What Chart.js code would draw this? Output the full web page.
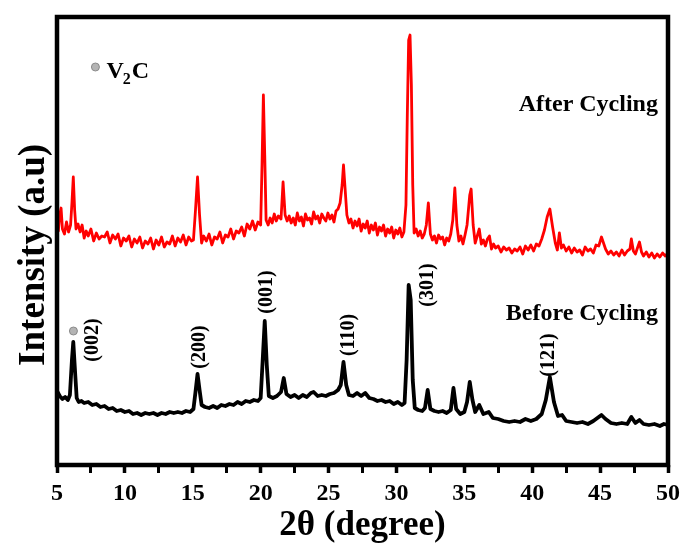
<!DOCTYPE html>
<html>
<head>
<meta charset="utf-8">
<script src="https://cdn.jsdelivr.net/npm/chart.js@4"></script>
<style>
html,body{margin:0;padding:0;background:#fff;}
#wrap{width:686px;height:547px;position:relative;}
</style>
</head>
<body>
<div id="wrap"><canvas id="c" width="686" height="547"></canvas></div>
<script>
// 2θ (degree) and intensity (a.u.) for the pattern before cycling
const beforeX = [5.0,5.2,5.4,5.6,5.8,5.95,6.1,6.2,6.3,6.45,6.6,6.8,7.0,7.3,7.6,7.9,8.2,8.5,8.8,9.1,9.4,9.7,10.0,10.3,10.6,10.9,11.2,11.5,11.8,12.1,12.4,12.7,13.0,13.3,13.6,13.9,14.2,14.5,14.8,15.05,15.2,15.35,15.5,15.65,15.9,16.2,16.5,16.8,17.1,17.4,17.7,18.0,18.3,18.6,18.9,19.2,19.5,19.8,20.0,20.15,20.3,20.45,20.6,20.9,21.2,21.5,21.7,21.9,22.2,22.5,22.8,23.1,23.4,23.7,23.9,24.2,24.5,24.8,25.1,25.4,25.7,25.9,26.1,26.3,26.5,26.8,27.1,27.4,27.7,28.0,28.3,28.6,28.9,29.2,29.5,29.8,30.1,30.4,30.6,30.75,30.9,31.05,31.2,31.35,31.6,31.9,32.1,32.3,32.5,32.8,33.1,33.4,33.7,34.0,34.2,34.4,34.7,35.0,35.2,35.4,35.6,35.8,36.1,36.4,36.8,37.1,37.5,37.9,38.3,38.7,39.1,39.5,39.9,40.3,40.7,41.0,41.3,41.6,41.9,42.2,42.5,42.9,43.3,43.7,44.1,44.5,44.8,45.1,45.4,45.8,46.2,46.6,47.0,47.3,47.6,47.9,48.2,48.6,49.0,49.4,49.7,50.0];
const beforeY = [74,69,66,68,65,70,105,123,100,67,63,64,62,63,60,61,58,59,56,57,54,55,53,54,51,52,50,52,51,52,50,52,51,53,52,53,52,54,53,56,73,91,75,60,58,57,59,57,60,59,61,60,63,61,64,63,65,64,67,105,144,100,69,67,69,73,87,71,68,70,67,70,68,72,73,69,70,69,71,72,75,80,103,80,70,69,72,69,72,67,66,64,65,63,64,61,63,60,62,105,180,165,85,57,55,54,57,75,56,54,53,54,52,55,77,56,51,53,63,83,65,53,60,51,53,47,46,44,43,44,43,46,44,46,51,65,88,63,49,50,44,43,42,43,41,44,47,50,46,42,41,42,41,48,42,45,41,40,41,39,41,40];

// 2θ (degree) and intensity (a.u.) for the pattern after cycling
const afterX = [5.0,5.1,5.2,5.3,5.4,5.55,5.7,5.85,6.0,6.1,6.2,6.3,6.4,6.55,6.7,6.85,7.0,7.15,7.3,7.5,7.7,7.9,8.1,8.3,8.5,8.7,8.9,9.1,9.3,9.5,9.7,9.9,10.1,10.3,10.5,10.7,10.9,11.1,11.3,11.5,11.7,11.9,12.1,12.3,12.5,12.7,12.9,13.1,13.3,13.5,13.7,13.9,14.1,14.3,14.5,14.7,14.9,15.05,15.2,15.35,15.5,15.65,15.8,16.0,16.2,16.4,16.6,16.8,17.0,17.2,17.4,17.6,17.8,18.0,18.2,18.4,18.6,18.8,19.0,19.2,19.4,19.6,19.8,20.0,20.1,20.2,20.3,20.4,20.55,20.7,20.85,21.0,21.15,21.3,21.5,21.65,21.8,21.95,22.1,22.25,22.4,22.55,22.7,22.85,23.0,23.15,23.3,23.45,23.6,23.75,23.9,24.05,24.2,24.35,24.5,24.65,24.8,24.95,25.1,25.25,25.4,25.55,25.7,25.85,26.0,26.1,26.2,26.35,26.5,26.65,26.8,26.95,27.1,27.25,27.4,27.55,27.7,27.85,28.0,28.15,28.3,28.45,28.6,28.75,28.9,29.05,29.2,29.35,29.5,29.65,29.8,29.95,30.1,30.25,30.4,30.55,30.7,30.8,30.9,31.0,31.1,31.2,31.3,31.45,31.6,31.75,31.9,32.05,32.2,32.35,32.5,32.65,32.8,32.95,33.1,33.25,33.4,33.55,33.7,33.85,34.0,34.15,34.3,34.45,34.6,34.75,34.9,35.05,35.2,35.4,35.5,35.65,35.8,35.95,36.1,36.25,36.4,36.55,36.7,36.85,37.0,37.15,37.3,37.5,37.7,37.9,38.1,38.3,38.5,38.7,38.9,39.1,39.3,39.5,39.7,39.9,40.1,40.3,40.5,40.7,40.9,41.1,41.3,41.5,41.7,41.85,42.0,42.15,42.3,42.5,42.7,42.9,43.1,43.3,43.5,43.7,43.9,44.1,44.3,44.5,44.7,44.9,45.1,45.25,45.4,45.6,45.8,46.0,46.2,46.4,46.6,46.8,47.0,47.2,47.3,47.45,47.6,47.75,47.9,48.05,48.2,48.4,48.6,48.8,49.0,49.2,49.4,49.6,49.8,50.0];
const afterY = [245,234,250,257,236,231,243,233,240,262,288,255,236,241,233,240,227,234,229,236,224,232,226,229,228,233,222,230,226,231,219,227,224,229,218,226,222,228,217,224,221,227,216,225,220,228,218,223,221,229,219,227,223,230,220,228,224,225,255,288,250,222,229,224,231,220,228,226,233,222,230,228,236,226,234,232,238,229,241,236,244,235,243,240,300,370,310,245,240,247,242,251,244,249,246,283,250,244,249,242,247,240,252,244,248,239,251,245,247,241,253,246,249,242,251,247,244,252,246,250,243,254,256,262,280,300,280,250,242,246,237,244,239,246,234,241,237,244,232,240,235,242,230,238,234,240,229,236,232,238,227,235,231,237,228,233,260,350,425,430,380,280,232,236,229,234,227,231,240,262,231,225,229,222,230,226,228,220,227,224,231,245,277,240,224,229,221,230,240,270,276,240,222,229,236,221,225,219,226,229,216,221,217,219,213,218,215,217,212,216,214,218,211,219,215,220,214,221,219,226,235,248,256,238,222,215,232,217,220,214,218,212,217,213,215,210,218,214,216,212,220,219,228,222,216,211,214,210,213,209,215,210,214,216,226,214,211,217,223,213,209,213,208,212,207,211,208,212,209,212];

// x-axis tick values (every 2.5°, labels every 5°)
const xTickStep = 2.5;
const xLabelEvery = 5;

// Miller-index labels: [text, 2θ, intensity]
const hklLabels = [
  ['(002)', 7.61, 125],
  ['(200)', 15.55, 118],
  ['(001)', 20.48, 173],
  ['(110)', 26.5, 130],
  ['(301)', 32.3, 180],
  ['(121)', 41.2, 110]
];
// V2C marker above the 6.2° peak: [2θ, intensity]
const v2cMarker = [6.21, 134];
// series labels: [text, 2θ (right edge), intensity]
const seriesLabels = [
  ['After Cycling', 49.26, 360],
  ['Before Cycling', 49.26, 151]
];
// legend key: circle at [2θ, intensity], text starting at [2θ, intensity]
const legendCircle = [7.83, 398];
const legendText = [8.64, 393];

const SERIF = '"Liberation Serif", "Times New Roman", serif';

const frameAndLabels = {
  id: 'frameAndLabels',
  afterDraw(chart) {
    const {ctx, chartArea: a, scales: {x, y}} = chart;
    ctx.save();
    ctx.strokeStyle = '#000';
    ctx.lineWidth = 4.5;
    ctx.strokeRect(a.left, a.top, a.right - a.left, a.bottom - a.top);

    ctx.fillStyle = '#000';
    ctx.font = 'bold 20px ' + SERIF;
    ctx.textAlign = 'center';
    ctx.textBaseline = 'middle';
    hklLabels.forEach(([t, xv, yv]) => {
      ctx.save();
      ctx.translate(x.getPixelForValue(xv), y.getPixelForValue(yv));
      ctx.rotate(-Math.PI / 2);
      ctx.fillText(t, 0, 0);
      ctx.restore();
    });

    const drawDot = (xv, yv) => {
      ctx.beginPath();
      ctx.arc(x.getPixelForValue(xv), y.getPixelForValue(yv), 4, 0, Math.PI * 2);
      ctx.fillStyle = '#b4b4b4';
      ctx.fill();
      ctx.lineWidth = 1;
      ctx.strokeStyle = '#8a8a8a';
      ctx.stroke();
    };
    drawDot(v2cMarker[0], v2cMarker[1]);
    drawDot(legendCircle[0], legendCircle[1]);

    ctx.fillStyle = '#000';
    ctx.font = 'bold 24px ' + SERIF;
    ctx.textAlign = 'right';
    ctx.textBaseline = 'middle';
    seriesLabels.forEach(([t, xv, yv]) => {
      ctx.fillText(t, x.getPixelForValue(xv), y.getPixelForValue(yv));
    });

    ctx.textAlign = 'left';
    ctx.textBaseline = 'middle';
    let px = x.getPixelForValue(legendText[0]);
    const py = y.getPixelForValue(legendText[1]);
    ctx.font = 'bold 24px ' + SERIF;
    ctx.fillText('V', px, py);
    px += ctx.measureText('V').width - 1;
    ctx.font = 'bold 16px ' + SERIF;
    ctx.fillText('2', px, py + 8);
    px += ctx.measureText('2').width + 1;
    ctx.font = 'bold 24px ' + SERIF;
    ctx.fillText('C', px, py);
    ctx.restore();
  }
};

new Chart(document.getElementById('c'), {
  type: 'line',
  data: {
    datasets: [
      {
        label: 'After Cycling',
        data: afterX.map((v, i) => ({x: v, y: afterY[i]})),
        borderColor: 'rgb(255,0,0)',
        borderWidth: 2.8,
        borderJoinStyle: 'round',
        borderCapStyle: 'round',
        pointRadius: 0,
        tension: 0
      },
      {
        label: 'Before Cycling',
        data: beforeX.map((v, i) => ({x: v, y: beforeY[i]})),
        borderColor: '#000',
        borderWidth: 3.8,
        borderJoinStyle: 'round',
        borderCapStyle: 'round',
        pointRadius: 0,
        tension: 0
      }
    ]
  },
  options: {
    responsive: false,
    animation: false,
    events: [],
    layout: {padding: {top: 17, right: 16, left: 0, bottom: 0}},
    plugins: {legend: {display: false}, tooltip: {enabled: false}},
    scales: {
      x: {
        type: 'linear',
        min: 5,
        max: 50,
        afterFit(s) { s.height = 82; },
        border: {display: false},
        grid: {
          drawOnChartArea: false,
          drawTicks: true,
          tickLength: 8,
          tickColor: '#000',
          tickWidth: (c) => (c.tick && c.tick.value % xLabelEvery === 0) ? 3.5 : 3
        },
        ticks: {
          stepSize: xTickStep,
          autoSkip: false,
          maxRotation: 0,
          padding: 6,
          color: '#000',
          font: {family: SERIF, size: 24, weight: 'bold'},
          callback: (v) => (v % xLabelEvery === 0 ? String(v) : '')
        },
        title: {
          display: true,
          text: '2θ (degree)',
          color: '#000',
          font: {family: SERIF, size: 35, weight: 'bold', lineHeight: 1.2},
          padding: {top: 0, bottom: 0}
        }
      },
      y: {
        min: 0,
        max: 448,
        afterFit(s) { s.width = 57; },
        border: {display: false},
        grid: {display: false},
        ticks: {display: false},
        title: {
          display: true,
          text: 'Intensity (a.u)   ',
          color: '#000',
          font: {family: SERIF, size: 37, weight: 'bold', lineHeight: 1.2},
          padding: {top: 12, bottom: 0}
        }
      }
    }
  },
  plugins: [frameAndLabels]
});
</script>
</body>
</html>
